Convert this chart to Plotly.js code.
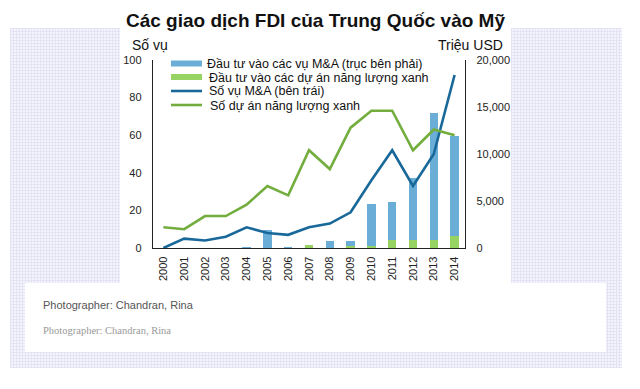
<!DOCTYPE html>
<html>
<head>
<meta charset="utf-8">
<script src="https://cdn.plot.ly/plotly-3.0.1.min.js"></script>
<style>
  html, body { margin:0; padding:0; background:#fff; }
  #wrap { position:relative; width:640px; height:389px; overflow:hidden; background:#fff; }
  .lav { position:absolute; left:10px; top:28px; width:612px; height:340px;
         background-color:#f4f4fc;
         background-image: linear-gradient(#e3e3f4 1px, transparent 1px), linear-gradient(90deg, #e3e3f4 1px, transparent 1px);
         background-size:3px 3px; }
  .w1 { position:absolute; left:120px; top:0px; width:391px; height:283px; background:#fff; }
  .w2 { position:absolute; left:25px; top:283px; width:581px; height:69px; background:#fff; }
  #chart { position:absolute; left:0; top:0; width:640px; height:389px; }
</style>
</head>
<body>
<div id="wrap">
  <div class="lav"></div>
  <div class="w1"></div>
  <div class="w2"></div>
  <div id="chart"></div>
</div>
<script>
// ---- data ----
var years = ['2000','2001','2002','2003','2004','2005','2006','2007','2008','2009','2010','2011','2012','2013','2014'];
var maDeals = [0, 5, 4, 6, 11, 8, 7, 11, 13, 19, 36, 52, 33, 50, 92];
var greenProjects = [11, 10, 17, 17, 23, 33, 28, 52, 42, 64, 73, 73, 52, 63, 60];
var maInvest = [0, 0, 0, 0, 100, 1900, 100, 0, 750, 500, 4450, 4060, 6680, 13600, 10700];
var greenInvest = [0, 0, 0, 0, 0, 0, 0, 300, 0, 200, 200, 800, 800, 800, 1250];
var seriesNames = ['Đầu tư vào các vụ M&A (trục bên phải)', 'Đầu tư vào các dự án năng lượng xanh', 'Số vụ M&A (bên trái)', 'Số dự án năng lượng xanh'];
var leftTicks = [0, 20, 40, 60, 80, 100];
var rightTicks = [0, 5000, 10000, 15000, 20000];
var rightTickText = ['0', '5,000', '10,000', '15,000', '20,000'];

var cBlueBar = '#6aaed8', cGreenBar = '#96d362', cBlueLine = '#19689a', cGreenLine = '#72ad3e';

// plot area in pixels: x 153..465, y 60..248
var L = 153, R = 465, T = 60, B = 248;
function px(x) { return (x - L) / (R - L); }
function py(y) { return (B - y) / (B - T); }

var narrow = 'Liberation Sans Narrow, Arial Narrow, Arial, sans-serif';
var sans = 'Liberation Sans, Arial, sans-serif';

var traces = [
  { type:'bar', x:years, y:greenInvest, name:seriesNames[1], marker:{color:cGreenBar}, width:0.4, yaxis:'y', showlegend:false, hoverinfo:'skip' },
  { type:'bar', x:years, y:maInvest, name:seriesNames[0], marker:{color:cBlueBar}, width:0.4, yaxis:'y', showlegend:false, hoverinfo:'skip' },
  { type:'scatter', mode:'lines', x:years, y:maDeals, name:seriesNames[2], line:{color:cBlueLine, width:2.6}, yaxis:'y2', showlegend:false },
  { type:'scatter', mode:'lines', x:years, y:greenProjects, name:seriesNames[3], line:{color:cGreenLine, width:2.6}, yaxis:'y2', showlegend:false }
];

var legendColors = [cBlueBar, cGreenBar, cBlueLine, cGreenLine];
var legendY = [63.5, 77, 91, 105];
var legendTextX = [206, 208, 208, 209];
var shapes = [];
var annotations = [];
for (var i = 0; i < 4; i++) {
  if (i < 2) {
    shapes.push({ type:'rect', xref:'paper', yref:'paper', x0:px(171), x1:px(202), y0:py(legendY[i]+3), y1:py(legendY[i]-3), fillcolor:legendColors[i], line:{width:0} });
  } else {
    shapes.push({ type:'line', xref:'paper', yref:'paper', x0:px(171), x1:px(202), y0:py(legendY[i]), y1:py(legendY[i]), line:{color:legendColors[i], width:2.6} });
  }
  annotations.push({ xref:'paper', yref:'paper', x:px(legendTextX[i]), y:py(legendY[i]+0.5), xanchor:'left', yanchor:'middle', text:seriesNames[i], showarrow:false, font:{family:sans, size:12.5, color:'#111'}, borderpad:0 });
}
annotations.push({ xref:'paper', yref:'paper', x:px(131), y:py(45), xanchor:'left', yanchor:'middle', text:'Số vụ', showarrow:false, font:{family:sans, size:14, color:'#111'}, borderpad:0 });
annotations.push({ xref:'paper', yref:'paper', x:px(504), y:py(45), xanchor:'right', yanchor:'middle', text:'Triệu USD', showarrow:false, font:{family:sans, size:14, color:'#111'}, borderpad:0 });
annotations.push({ xref:'paper', yref:'paper', x:px(42), y:py(305), xanchor:'left', yanchor:'middle', text:'Photographer: Chandran, Rina', showarrow:false, font:{family:sans, size:11, color:'#555'}, borderpad:0 });
annotations.push({ xref:'paper', yref:'paper', x:px(42), y:py(330), xanchor:'left', yanchor:'middle', text:'Photographer: Chandran, Rina', showarrow:false, font:{family:'Liberation Serif, Times New Roman, serif', size:10.5, color:'#999'}, borderpad:0 });

var layout = {
  width:640, height:389,
  margin:{l:L, r:640-R, t:T, b:389-B, pad:0},
  paper_bgcolor:'rgba(0,0,0,0)', plot_bgcolor:'rgba(0,0,0,0)',
  title:{ text:'<b>Các giao dịch FDI của Trung Quốc vào Mỹ</b>', x:315.5/640, xanchor:'center', y:1-20/389, yanchor:'middle', yref:'container', xref:'container', font:{family:sans, size:19, color:'#111'} },
  barmode:'stack',
  showlegend:false,
  xaxis:{ type:'category', tickangle:-90, showline:true, linecolor:'#222', linewidth:1.2, ticks:'', showgrid:false, zeroline:false, tickfont:{family:narrow, size:11, color:'#222'}, ticklabelstandoff:3, fixedrange:true },
  yaxis:{ side:'right', range:[0, 20000], tickvals:rightTicks, ticktext:rightTickText, showline:true, linecolor:'#222', linewidth:1.2, ticks:'', showgrid:false, zeroline:false, tickfont:{family:narrow, size:11, color:'#222'}, ticklabelstandoff:8, fixedrange:true },
  yaxis2:{ side:'left', overlaying:'y', range:[0, 100], tickvals:leftTicks, showline:true, linecolor:'#222', linewidth:1.2, ticks:'', showgrid:false, zeroline:false, tickfont:{family:narrow, size:11, color:'#222'}, ticklabelstandoff:8, fixedrange:true },
  shapes:shapes,
  annotations:annotations
};

Plotly.newPlot('chart', traces, layout, {displayModeBar:false, staticPlot:true});
</script>
</body>
</html>
